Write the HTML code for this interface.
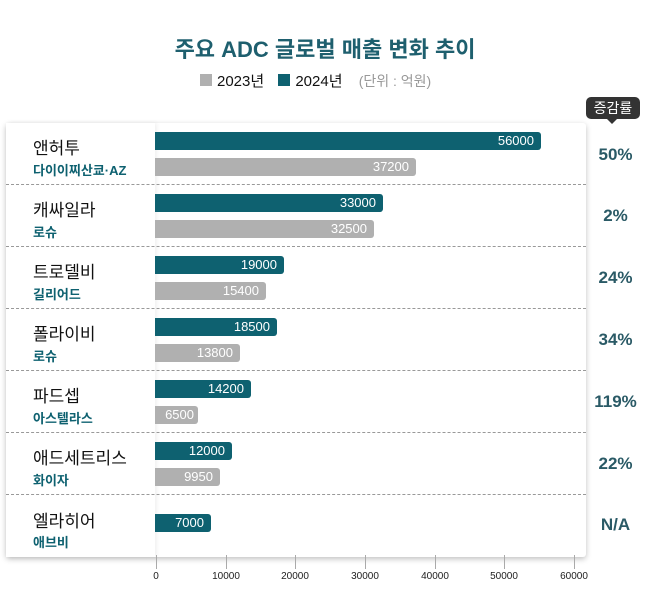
<!DOCTYPE html><html><head><meta charset="utf-8"><style>
body{margin:0;width:650px;height:603px;background:#fff;position:relative;overflow:hidden;font-family:"Liberation Sans","Noto Sans CJK KR",sans-serif}
.a{position:absolute}
.card{left:6px;top:123px;width:580px;height:434px;background:#fff;box-shadow:0 2px 6px rgba(0,0,0,.25);border-radius:3px}
.lp{left:6px;top:123px;width:149px;height:434px;background:#fff;box-shadow:2px 0 4px rgba(0,0,0,.06)}
.sep{left:6px;width:580px;border-top:1px dashed #999;height:0}
.nm{left:33px;font-size:17px;color:#111;white-space:nowrap}
.sb{left:33px;font-size:13px;font-weight:bold;color:#0e6170;white-space:nowrap}
.bar{left:155px;height:18px;border-radius:0 3px 3px 0;color:#fff;font-size:13px;line-height:18px;text-align:right;box-sizing:border-box;padding-right:7px}
.t{background:#0e6170}.g{background:#b0b0b0}
.pc{left:588px;width:55px;text-align:center;font-size:17px;font-weight:bold;color:#2a5a66}
.tk{width:1px;height:14px;background:#aaa;top:555px}
.tl{top:571px;font-size:10px;color:#222;width:50px;margin-left:-25px;text-align:center}
</style></head><body>
<div class="a" style="left:0;width:650px;top:32px;text-align:center;font-size:22px;font-weight:bold;color:#1e5f6e">주요 ADC 글로벌 매출 변화 추이</div>
<div class="a" style="left:200px;top:70px;font-size:15px;color:#111;white-space:nowrap"><span style="display:inline-block;width:12px;height:12px;background:#b0b0b0;margin-right:5px"></span>2023년 <span style="display:inline-block;width:12px;height:12px;background:#0e6170;margin:0 5px 0 10px"></span>2024년 <span style="color:#999;margin-left:12px;font-size:14px">(단위 : 억원)</span></div>
<div class="a" style="left:586px;top:97px;width:54px;height:22px;background:#333;border-radius:5px;color:#fff;font-size:14px;line-height:22px;text-align:center">증감률</div>
<div class="a" style="left:607px;top:119px;border-left:5px solid transparent;border-right:5px solid transparent;border-top:5px solid #333"></div>
<div class="a card"></div>
<div class="a lp"></div>
<div class="a sep" style="top:184px"></div><div class="a sep" style="top:246px"></div><div class="a sep" style="top:308px"></div><div class="a sep" style="top:370px"></div><div class="a sep" style="top:432px"></div><div class="a sep" style="top:494px"></div>

<div class="a nm" style="top:134px">앤허투</div><div class="a sb" style="top:160px">다이이찌산쿄·AZ</div>
<div class="a bar t" style="top:132px;width:386px">56000</div><div class="a bar g" style="top:158px;width:261px">37200</div>
<div class="a pc" style="top:145px">50%</div>

<div class="a nm" style="top:196px">캐싸일라</div><div class="a sb" style="top:222px">로슈</div>
<div class="a bar t" style="top:194px;width:228px">33000</div><div class="a bar g" style="top:220px;width:219px">32500</div>
<div class="a pc" style="top:206px">2%</div>

<div class="a nm" style="top:258px">트로델비</div><div class="a sb" style="top:284px">길리어드</div>
<div class="a bar t" style="top:256px;width:129px">19000</div><div class="a bar g" style="top:282px;width:111px">15400</div>
<div class="a pc" style="top:268px">24%</div>

<div class="a nm" style="top:320px">폴라이비</div><div class="a sb" style="top:346px">로슈</div>
<div class="a bar t" style="top:318px;width:122px">18500</div><div class="a bar g" style="top:344px;width:85px">13800</div>
<div class="a pc" style="top:330px">34%</div>

<div class="a nm" style="top:382px">파드셉</div><div class="a sb" style="top:408px">아스텔라스</div>
<div class="a bar t" style="top:380px;width:96px">14200</div><div class="a bar g" style="top:406px;width:43px;padding-right:4px">6500</div>
<div class="a pc" style="top:392px">119%</div>

<div class="a nm" style="top:444px">애드세트리스</div><div class="a sb" style="top:470px">화이자</div>
<div class="a bar t" style="top:442px;width:77px">12000</div><div class="a bar g" style="top:468px;width:65px">9950</div>
<div class="a pc" style="top:454px">22%</div>

<div class="a nm" style="top:507px">엘라히어</div><div class="a sb" style="top:532px">애브비</div>
<div class="a bar t" style="top:514px;width:56px">7000</div>
<div class="a pc" style="top:515px">N/A</div>

<div class="a tk" style="left:156px"></div><div class="a tk" style="left:226px"></div><div class="a tk" style="left:295px"></div><div class="a tk" style="left:365px"></div><div class="a tk" style="left:435px"></div><div class="a tk" style="left:504px"></div><div class="a tk" style="left:574px"></div>
<div class="a tl" style="left:156px">0</div><div class="a tl" style="left:226px">10000</div><div class="a tl" style="left:295px">20000</div><div class="a tl" style="left:365px">30000</div><div class="a tl" style="left:435px">40000</div><div class="a tl" style="left:504px">50000</div><div class="a tl" style="left:574px">60000</div>
</body></html>
